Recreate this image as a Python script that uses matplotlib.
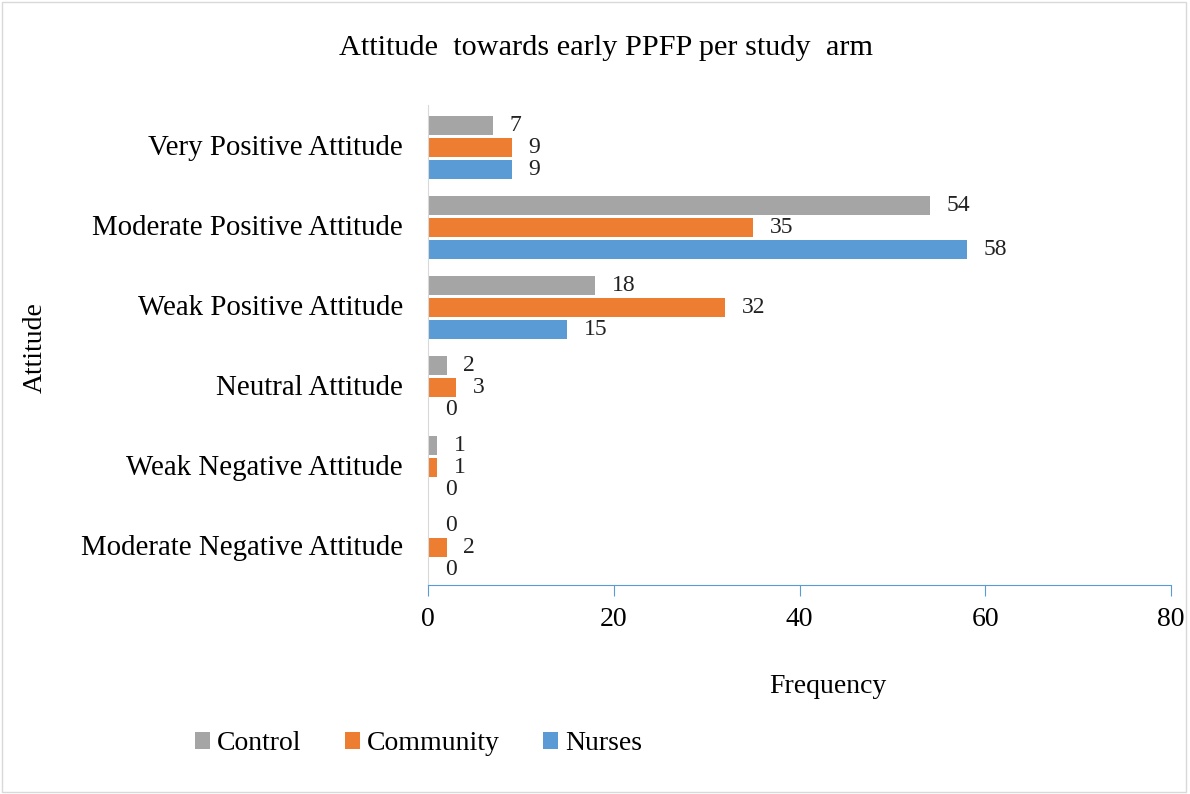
import numpy as np
import matplotlib
matplotlib.use('Agg')
import matplotlib.pyplot as plt
from matplotlib.patches import Rectangle

plt.rcParams['font.family'] = ['Liberation Serif', 'DejaVu Serif']

categories = ['Moderate Negative Attitude', 'Weak Negative Attitude', 'Neutral Attitude',
              'Weak Positive Attitude', 'Moderate Positive Attitude', 'Very Positive Attitude']
control = [0, 1, 2, 18, 54, 7]
community = [2, 1, 3, 32, 35, 9]
nurses = [0, 0, 0, 15, 58, 9]

series = [('Control', control, '#A5A5A5', 0.245),
          ('Community', community, '#ED7D31', -0.03),
          ('Nurses', nurses, '#5B9BD5', -0.305)]

fig = plt.figure(figsize=(11.9, 7.94), dpi=100)
ax = fig.add_axes([0.3597, 0.2632, 0.6244, 0.6046])

y = np.arange(len(categories))
bars = {}
for name, vals, col, off in series:
    b = ax.barh(y + off, vals, height=0.23, color=col, label=name)
    bars[name] = b
    for yy, v in zip(y + off, vals):
        ax.text(v + 1.8, yy, str(v), va='center', ha='left', fontsize=17, color='#222222')

ax.set_xlim(0, 80)
ax.set_ylim(-0.5, 5.5)
ax.set_xticks([0, 20, 40, 60, 80])
ax.set_yticks(y)
ax.set_yticklabels(categories, fontsize=20.8)
ax.tick_params(axis='x', labelsize=20, direction='out', length=8, color='#5B9BD5', pad=8)
ax.tick_params(axis='y', length=0, pad=18)
for s in ['top', 'right']:
    ax.spines[s].set_visible(False)
ax.spines['bottom'].set_color('#5B9BD5')
ax.spines['left'].set_color('#D9D9D9')

fig.text(0.509, 0.94, 'Attitude  towards early PPFP per study  arm', ha='center', va='center', fontsize=21.8)
fig.text(0.03, 0.562, 'Attitude', rotation=90, ha='center', va='center', fontsize=20)
fig.text(0.696, 0.136, 'Frequency', ha='center', va='center', fontsize=20)

handles = [bars[n] for n, _, _, _ in series]
fig.legend(handles, [n for n, _, _, _ in series], loc='center left', bbox_to_anchor=(0.143, 0.063),
           ncol=3, frameon=False, fontsize=20, handlelength=0.54, handleheight=0.54,
           handletextpad=0.25, columnspacing=1.56)

fig.add_artist(Rectangle((0.002, 0.003), 0.995, 0.994, transform=fig.transFigure,
                         fill=False, edgecolor='#D9D9D9', linewidth=1))

fig.savefig('out.png', dpi=100)
